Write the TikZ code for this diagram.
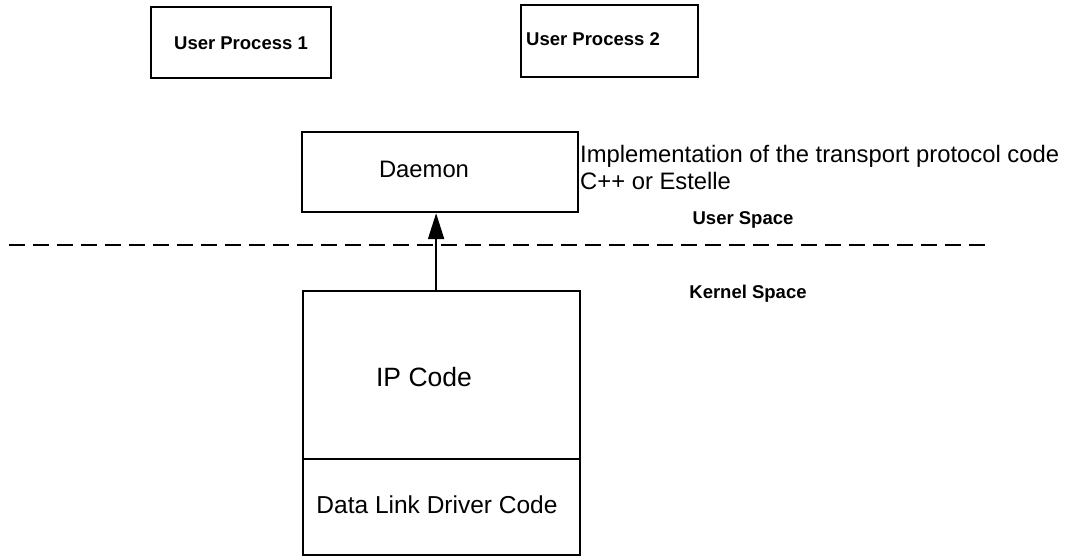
\documentclass[tikz,border=0pt]{standalone}
\usepackage{fontspec}
\setmainfont{Liberation Sans}
\usetikzlibrary{arrows.meta}
\begin{document}
\begin{tikzpicture}[x=1pt,y=-1pt,
  box/.style={draw,line width=2.2pt,inner sep=0pt,anchor=north west},
  small/.style={font=\bfseries\fontsize{18.5}{20}\selectfont,inner sep=0pt},
  mid/.style={font=\fontsize{23.8}{27}\selectfont,inner sep=0pt},
  big/.style={font=\fontsize{26.5}{28}\selectfont,inner sep=0pt},
  sep/.style={line width=2.2pt,dash pattern=on 16pt off 8pt},
  arr/.style={line width=2pt,-{Triangle[length=26pt,width=16pt]}}]
\useasboundingbox (0,0) rectangle (1065,556);
% user processes
\node[box,minimum width=180pt,minimum height=71pt] (up1) at (150,6) {};
\node[small] (up1t) at (241,43) {User Process 1};
\node[box,minimum width=177pt,minimum height=72pt] (up2) at (520,4) {};
\node[small,anchor=west] (up2t) at (526,39) {User Process 2};
% daemon
\node[box,minimum width=276pt,minimum height=80pt] (daemon) at (301,131) {};
\node[mid] (daemont) at (424,169) {Daemon};
\node[mid,anchor=west,align=left] (impl) at (580,167.5) {Implementation of the transport protocol code\\C++ or Estelle};
% separator
\coordinate (sepL) at (9,245);
\coordinate (sepR) at (985,245);
\draw[sep] (sepL) -- (sepR);
\node[small] (us) at (743,220) {User Space};
\node[small] (ks) at (748,294) {Kernel Space};
% kernel stack
\node[box,minimum width=277pt,minimum height=168pt] (ip) at (302,290) {};
\node[box,minimum width=277pt,minimum height=96pt] (dl) at (302,458) {};
\node[big] (ipt) at (424,377) {IP Code};
\node[font=\fontsize{24.5}{26}\selectfont,inner sep=0pt] (dlt) at (437,505) {Data Link Driver Code};
% arrow
\draw[arr] ([xshift=-5.5pt]ip.north) -- ([xshift=-4pt]daemon.south);
\end{tikzpicture}
\end{document}
